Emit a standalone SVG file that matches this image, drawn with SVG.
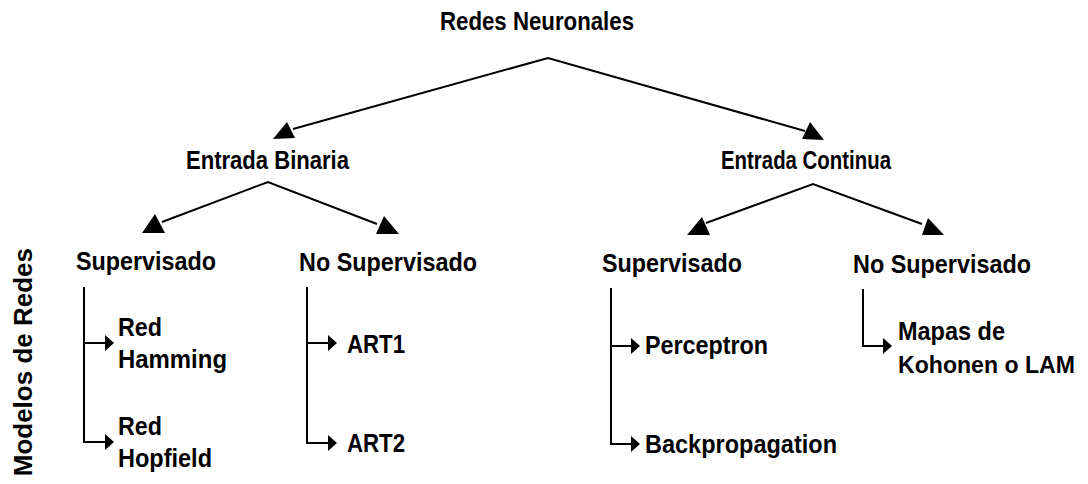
<svg xmlns="http://www.w3.org/2000/svg" width="1088" height="484" viewBox="0 0 1088 484">
<style>
.t{font-family:"Liberation Sans Narrow","Liberation Sans",Arial,sans-serif;font-weight:bold;font-size:26px;fill:#000}
.v{font-family:"Liberation Sans",Arial,sans-serif;font-weight:bold;font-size:26px;fill:#000}
.ln{fill:none;stroke:#000;stroke-width:2}
.ah{fill:#000;stroke:none}
</style>
<rect width="1088" height="484" fill="#fff"/>
<g id="connectors">
<polyline class="ln" points="293,129 548,58 805,131"/>
<polygon class="ah" points="273,139 295,138 287,122"/>
<polygon class="ah" points="802,139 824,140 810,122"/>
<polyline class="ln" points="162,222 268,182 377,224"/>
<polygon class="ah" points="142,233 165,233 155,214"/>
<polygon class="ah" points="376,234 399,234 384,216"/>
<polyline class="ln" points="706,223 813,184 922,224"/>
<polygon class="ah" points="687,235 710,235 702,217"/>
<polygon class="ah" points="922,235 944,235 928,218"/>
<polyline class="ln" points="84,287 84,442 106,442"/>
<line class="ln" x1="84" y1="343" x2="106" y2="343"/>
<polygon class="ah" points="105,335 114,343 105,351"/>
<polygon class="ah" points="105,434 114,442 105,450"/>
<polyline class="ln" points="307,287 307,443 329,443"/>
<line class="ln" x1="307" y1="343" x2="329" y2="343"/>
<polygon class="ah" points="328,335 337,343 328,351"/>
<polygon class="ah" points="328,435 337,443 328,451"/>
<polyline class="ln" points="611,288 611,444 632,444"/>
<line class="ln" x1="611" y1="346" x2="632" y2="346"/>
<polygon class="ah" points="631,338 640,346 631,354"/>
<polygon class="ah" points="631,436 640,444 631,452"/>
<polyline class="ln" points="863,289 863,346 884,346"/>
<polygon class="ah" points="883,338 892,346 883,354"/>
</g>
<g id="n-redes"><text class="t" x="440" y="30" textLength="194" lengthAdjust="spacingAndGlyphs">Redes Neuronales</text></g>
<g id="n-binaria"><text class="t" x="186" y="169" textLength="163" lengthAdjust="spacingAndGlyphs">Entrada Binaria</text></g>
<g id="n-continua"><text class="t" x="721" y="169" textLength="170" lengthAdjust="spacingAndGlyphs">Entrada Continua</text></g>
<g id="n-sup-b"><text class="t" x="76" y="270" textLength="140" lengthAdjust="spacingAndGlyphs">Supervisado</text></g>
<g id="n-nosup-b"><text class="t" x="299" y="271" textLength="178" lengthAdjust="spacingAndGlyphs">No Supervisado</text></g>
<g id="n-sup-c"><text class="t" x="602" y="272" textLength="140" lengthAdjust="spacingAndGlyphs">Supervisado</text></g>
<g id="n-nosup-c"><text class="t" x="853" y="273" textLength="178" lengthAdjust="spacingAndGlyphs">No Supervisado</text></g>
<g id="n-hamming">
<text class="t" x="118" y="336" textLength="44" lengthAdjust="spacingAndGlyphs">Red</text>
<text class="t" x="118" y="368" textLength="109" lengthAdjust="spacingAndGlyphs">Hamming</text>
</g>
<g id="n-hopfield">
<text class="t" x="118" y="435" textLength="44" lengthAdjust="spacingAndGlyphs">Red</text>
<text class="t" x="118" y="467" textLength="94" lengthAdjust="spacingAndGlyphs">Hopfield</text>
</g>
<g id="n-art1"><text class="t" x="347" y="353" textLength="58" lengthAdjust="spacingAndGlyphs">ART1</text></g>
<g id="n-art2"><text class="t" x="347" y="452" textLength="58" lengthAdjust="spacingAndGlyphs">ART2</text></g>
<g id="n-perceptron"><text class="t" x="645" y="354" textLength="123" lengthAdjust="spacingAndGlyphs">Perceptron</text></g>
<g id="n-backprop"><text class="t" x="645" y="453" textLength="192" lengthAdjust="spacingAndGlyphs">Backpropagation</text></g>
<g id="n-kohonen">
<text class="t" x="898" y="340" textLength="107" lengthAdjust="spacingAndGlyphs">Mapas de</text>
<text class="t" x="898" y="373" textLength="177" lengthAdjust="spacingAndGlyphs" style="font-size:24px">Kohonen o LAM</text>
</g>
<g id="n-modelos"><text class="v" transform="translate(32,248) rotate(-90)" text-anchor="end">Modelos de Redes</text></g>
</svg>
